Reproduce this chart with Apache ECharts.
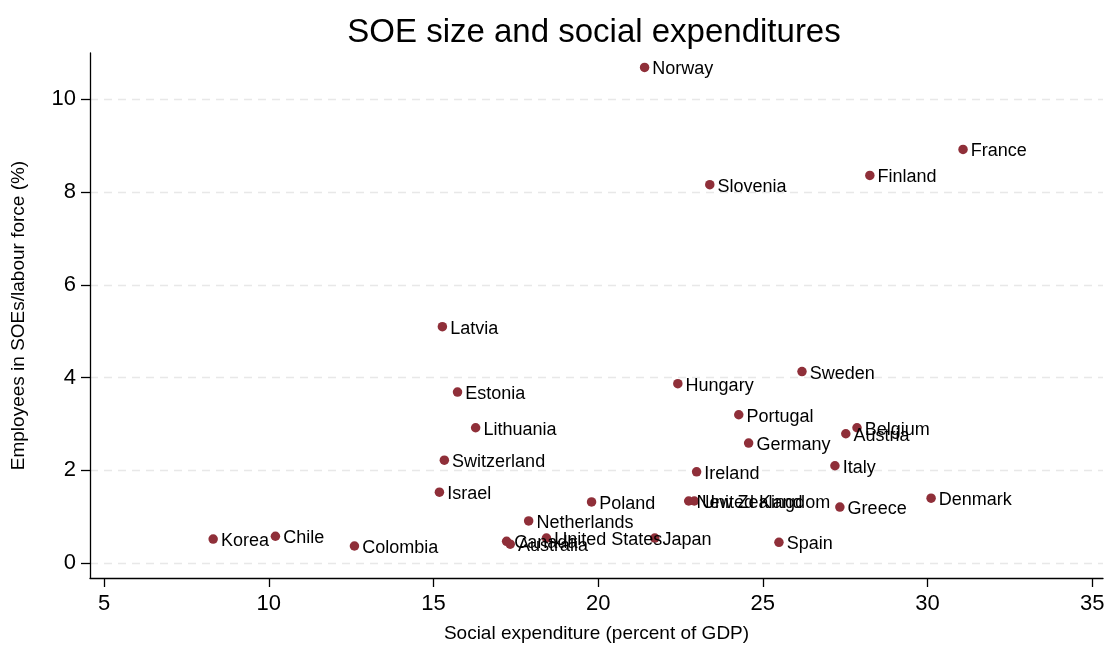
<!DOCTYPE html>
<html>
<head>
<meta charset="utf-8">
<script src="https://cdn.jsdelivr.net/npm/echarts@6/dist/echarts.min.js"></script>
<style>
	html, body { margin: 0; padding: 0; background: #fff; }
	#chart { width: 1107px; height: 645px; }
</style>
</head>
<body>
<div id="chart"></div>
<script>
// country, social expenditure (% of GDP), SOE employees (% of labour force)
const countries = ["Norway", "France", "Finland", "Slovenia", "Latvia", "Estonia", "Sweden", "Hungary",
	"Portugal", "Lithuania", "Belgium", "Austria", "Germany", "Switzerland", "Italy", "Ireland", "Israel",
	"Denmark", "Poland", "New Zealand", "United Kingdom", "Greece", "Netherlands", "Korea", "Chile",
	"Colombia", "Canada", "Australia", "United States", "Japan", "Spain"];
const socialExp = [21.41, 31.08, 28.25, 23.39, 15.27, 15.73, 26.19, 22.42,
	24.27, 16.28, 27.86, 27.52, 24.57, 15.33, 27.19, 22.99, 15.18,
	30.11, 19.80, 22.75, 22.92, 27.34, 17.89, 8.31, 10.20,
	12.60, 17.22, 17.33, 18.43, 21.72, 25.49];
const soeEmp = [10.69, 8.92, 8.36, 8.16, 5.10, 3.69, 4.13, 3.87,
	3.20, 2.92, 2.92, 2.79, 2.59, 2.22, 2.10, 1.97, 1.53,
	1.40, 1.32, 1.34, 1.34, 1.21, 0.91, 0.52, 0.58,
	0.37, 0.47, 0.41, 0.54, 0.54, 0.45];
const xTicks = [5, 10, 15, 20, 25, 30, 35];
const yTicks = [0, 2, 4, 6, 8, 10];

const font = "'Liberation Sans', Arial, Helvetica, sans-serif";
let seriesData = countries.map((c, i) => ({ name: c, value: [socialExp[i], soeEmp[i]] }));

let myChart = echarts.init(document.getElementById("chart"));
let option = {
	animation: false,
	title: {
		text: "SOE size and social expenditures",
		left: 589,
		top: 11,
		textAlign: "center",
		textStyle: { fontFamily: font, fontSize: 33, fontWeight: "normal", color: "#000" }
	},
	grid: { left: 90, right: 4, top: 53, bottom: 67, outerBoundsMode: "none" },
	xAxis: {
		type: "value",
		min: 4.57,
		max: 35.33,
		name: "Social expenditure (percent of GDP)",
		nameLocation: "middle",
		nameGap: 46,
		nameTextStyle: { fontFamily: font, fontSize: 19, color: "#000" },
		axisLine: { show: true, onZero: false, lineStyle: { color: "#000", width: 1.3 } },
		axisTick: { show: true, length: 9, customValues: xTicks, lineStyle: { color: "#000", width: 1.3 } },
		axisLabel: { customValues: xTicks, margin: 15, fontFamily: font, fontSize: 22, color: "#000" },
		splitLine: { show: false }
	},
	yAxis: {
		type: "value",
		min: -0.32,
		max: 11,
		name: "Employees in SOEs/labour force (%)",
		nameLocation: "middle",
		nameRotate: 90,
		nameGap: 62,
		nameTextStyle: { fontFamily: font, fontSize: 19, color: "#000" },
		axisLine: { show: true, onZero: false, lineStyle: { color: "#000", width: 1.3 } },
		axisTick: { show: true, length: 9, customValues: yTicks, lineStyle: { color: "#000", width: 1.3 } },
		axisLabel: { customValues: yTicks, margin: 14, fontFamily: font, fontSize: 22, color: "#000" },
		splitLine: { show: true, lineStyle: { color: "#e8e8e8", width: 1.3, type: [8, 6] } }
	},
	series: [
		{
			type: "scatter",
			symbol: "circle",
			symbolSize: 9.5,
			itemStyle: { color: "#8f2f39", opacity: 1 },
			label: {
				show: true,
				position: "right",
				distance: 3,
				offset: [0, 2],
				formatter: "{b}",
				fontFamily: font,
				fontSize: 18,
				color: "#000"
			},
			data: seriesData
		}
	]
};
myChart.setOption(option);
</script>
</body>
</html>
